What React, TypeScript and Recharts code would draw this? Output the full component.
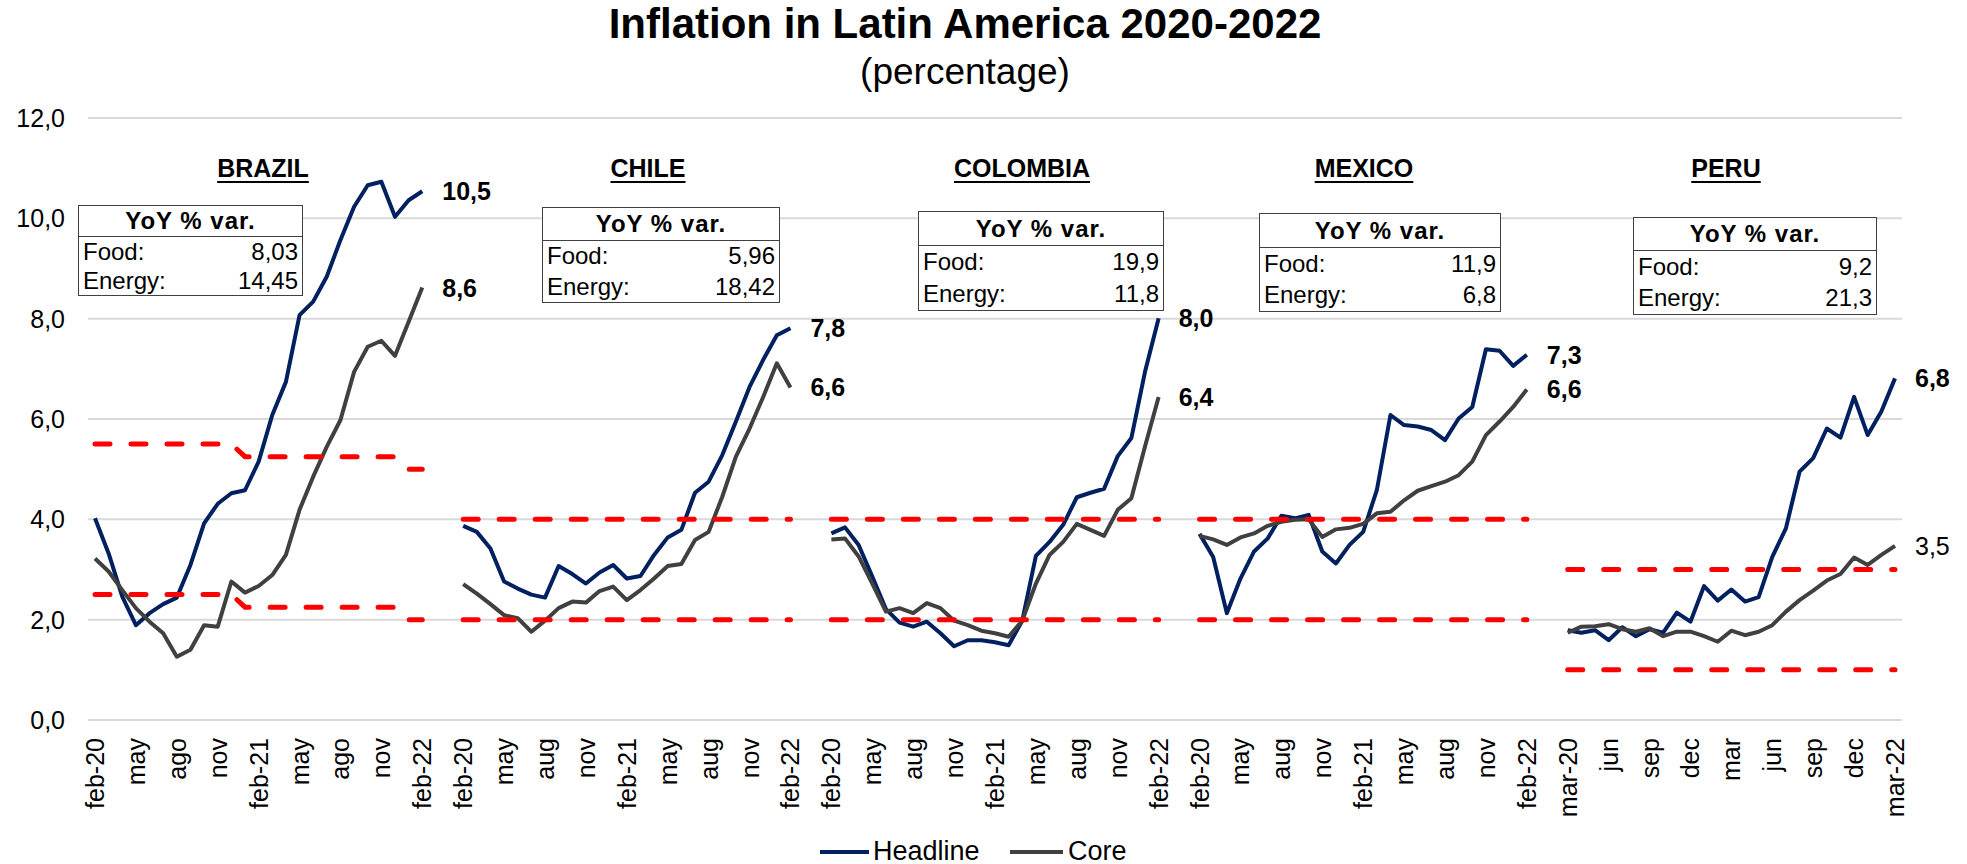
import { CartesianGrid, LabelList, Line, LineChart, XAxis, YAxis } from "recharts"

const FONT = '"Liberation Sans", Arial, sans-serif'

// monthly YoY %, 25 months per country
const BRAZIL_HEADLINE = [4.02, 3.32, 2.46, 1.89, 2.13, 2.31, 2.44, 3.09, 3.92, 4.31, 4.52, 4.58, 5.15, 6.08, 6.74, 8.07, 8.34, 8.84, 9.57, 10.23, 10.66, 10.73, 10.03, 10.36, 10.54]
const BRAZIL_CORE = [3.22, 2.96, 2.59, 2.23, 1.96, 1.73, 1.26, 1.4, 1.89, 1.86, 2.76, 2.54, 2.67, 2.89, 3.29, 4.19, 4.85, 5.45, 5.98, 6.94, 7.44, 7.56, 7.26, 7.94, 8.62]
const CHILE_HEADLINE = [3.87, 3.75, 3.42, 2.76, 2.62, 2.5, 2.44, 3.07, 2.91, 2.72, 2.94, 3.09, 2.82, 2.87, 3.29, 3.64, 3.79, 4.53, 4.75, 5.28, 5.95, 6.64, 7.18, 7.67, 7.81]
const CHILE_CORE = [2.71, 2.52, 2.31, 2.09, 2.03, 1.76, 1.98, 2.23, 2.36, 2.34, 2.57, 2.66, 2.39, 2.59, 2.82, 3.07, 3.11, 3.59, 3.75, 4.45, 5.25, 5.81, 6.44, 7.11, 6.63]
const COLOMBIA_HEADLINE = [3.72, 3.84, 3.49, 2.86, 2.21, 1.94, 1.86, 1.96, 1.73, 1.47, 1.59, 1.59, 1.55, 1.49, 1.98, 3.27, 3.55, 3.89, 4.44, 4.53, 4.61, 5.26, 5.62, 6.94, 8.01]
const COLOMBIA_CORE = [3.6, 3.62, 3.26, 2.72, 2.16, 2.23, 2.13, 2.33, 2.23, 1.98, 1.89, 1.78, 1.73, 1.66, 1.98, 2.72, 3.29, 3.55, 3.91, 3.79, 3.67, 4.19, 4.42, 5.45, 6.44]
const MEXICO_HEADLINE = [3.71, 3.25, 2.13, 2.82, 3.36, 3.62, 4.07, 4.02, 4.09, 3.36, 3.12, 3.49, 3.75, 4.58, 6.08, 5.88, 5.85, 5.78, 5.58, 6.01, 6.24, 7.39, 7.36, 7.06, 7.28]
const MEXICO_CORE = [3.67, 3.6, 3.49, 3.64, 3.72, 3.87, 3.95, 3.99, 4.0, 3.65, 3.8, 3.83, 3.91, 4.12, 4.15, 4.38, 4.57, 4.66, 4.75, 4.88, 5.15, 5.68, 5.95, 6.24, 6.59]
const PERU_HEADLINE = [1.79, 1.74, 1.79, 1.59, 1.85, 1.67, 1.81, 1.74, 2.14, 1.96, 2.67, 2.38, 2.6, 2.36, 2.45, 3.25, 3.82, 4.95, 5.22, 5.81, 5.63, 6.44, 5.68, 6.15, 6.81]
const PERU_CORE = [1.74, 1.86, 1.87, 1.91, 1.81, 1.76, 1.83, 1.67, 1.76, 1.76, 1.67, 1.56, 1.78, 1.69, 1.76, 1.89, 2.16, 2.39, 2.58, 2.78, 2.91, 3.24, 3.09, 3.29, 3.47]

// tick labels, every third month
const TICKS_BRAZIL = ["feb-20", "may", "ago", "nov", "feb-21", "may", "ago", "nov", "feb-22"]
const TICKS_FEB = ["feb-20", "may", "aug", "nov", "feb-21", "may", "aug", "nov", "feb-22"]
const TICKS_PERU = ["mar-20", "jun", "sep", "dec", "mar", "jun", "sep", "dec", "mar-22"]

// inflation target band by year
const BRAZIL_UPPER: Record<number, number> = { 2020: 5.5, 2021: 5.25, 2022: 5.0 }
const BRAZIL_LOWER: Record<number, number> = { 2020: 2.5, 2021: 2.25, 2022: 2.0 }
const BAND3_UPPER: Record<number, number> = { 2020: 4, 2021: 4, 2022: 4 }
const BAND3_LOWER: Record<number, number> = { 2020: 2, 2021: 2, 2022: 2 }
const PERU_UPPER: Record<number, number> = { 2020: 3, 2021: 3, 2022: 3 }
const PERU_LOWER: Record<number, number> = { 2020: 1, 2021: 1, 2022: 1 }

// YoY % var. boxes: food, energy
const BRAZIL_YOY = ["8,03", "14,45"]
const CHILE_YOY = ["5,96", "18,42"]
const COLOMBIA_YOY = ["19,9", "11,8"]
const MEXICO_YOY = ["11,9", "6,8"]
const PERU_YOY = ["9,2", "21,3"]

const PANELS = [
  { name: "BRAZIL", headline: BRAZIL_HEADLINE, core: BRAZIL_CORE, ticks: TICKS_BRAZIL, startMonth: 2, upper: BRAZIL_UPPER, lower: BRAZIL_LOWER, yoy: BRAZIL_YOY },
  { name: "CHILE", headline: CHILE_HEADLINE, core: CHILE_CORE, ticks: TICKS_FEB, startMonth: 2, upper: BAND3_UPPER, lower: BAND3_LOWER, yoy: CHILE_YOY },
  { name: "COLOMBIA", headline: COLOMBIA_HEADLINE, core: COLOMBIA_CORE, ticks: TICKS_FEB, startMonth: 2, upper: BAND3_UPPER, lower: BAND3_LOWER, yoy: COLOMBIA_YOY },
  { name: "MEXICO", headline: MEXICO_HEADLINE, core: MEXICO_CORE, ticks: TICKS_FEB, startMonth: 2, upper: BAND3_UPPER, lower: BAND3_LOWER, yoy: MEXICO_YOY },
  { name: "PERU", headline: PERU_HEADLINE, core: PERU_CORE, ticks: TICKS_PERU, startMonth: 3, upper: PERU_UPPER, lower: PERU_LOWER, yoy: PERU_YOY },
]

// overlay placement (pixels)
const LAYOUT: Record<string, { cx: number; box: [number, number, number, number] }> = {
  BRAZIL: { cx: 263, box: [78, 205, 225, 91] },
  CHILE: { cx: 648, box: [542, 207, 238, 96] },
  COLOMBIA: { cx: 1022, box: [918, 211, 246, 100] },
  MEXICO: { cx: 1364, box: [1259, 213, 242, 99] },
  PERU: { cx: 1726, box: [1633, 217, 244, 98] },
}

type Row = {
  key: string
  country: string
  headline: number | null
  core: number | null
  upper: number | null
  lower: number | null
  headlineEnd?: number
  coreEnd?: number
}

const rows: Row[] = []
const tickByKey = new Map<string, string>()
PANELS.forEach((p, pi) => {
  p.headline.forEach((h, i) => {
    const year = 2020 + Math.floor((p.startMonth - 1 + i) / 12)
    const key = `${p.name}-${i}`
    const last = i === p.headline.length - 1
    if (i % 3 === 0) tickByKey.set(key, p.ticks[i / 3])
    rows.push({
      key,
      country: p.name,
      headline: h,
      core: p.core[i],
      upper: p.upper[year],
      lower: p.lower[year],
      headlineEnd: last ? h : undefined,
      coreEnd: last ? p.core[i] : undefined,
    })
  })
  if (pi < PANELS.length - 1) {
    for (let g = 0; g < 2; g++) {
      rows.push({ key: `gap-${pi}-${g}`, country: "", headline: null, core: null, upper: null, lower: null })
    }
  }
})

const fmt = (v: number) => v.toFixed(1).replace(".", ",")

function XTick(props: any) {
  const { x, y, payload } = props
  const label = tickByKey.get(payload.value)
  if (!label) return null
  return (
    <text
      x={x}
      y={y}
      transform={`rotate(-90 ${x} ${y})`}
      textAnchor="end"
      dominantBaseline="central"
      fontSize={25}
      fontFamily={FONT}
      fill="#000"
    >
      {label}
    </text>
  )
}

const endLabel = (series: "headline" | "core") => (props: any) => {
  const { value, index } = props
  if (value === undefined || value === null) return null
  const x = props.x ?? props.viewBox?.x
  const y = props.y ?? props.viewBox?.y
  const row = rows[index]
  const bold = !(series === "core" && row?.country === "PERU")
  return (
    <text
      x={x + 20}
      y={y}
      dominantBaseline="central"
      fontSize={25}
      fontWeight={bold ? 700 : 400}
      fontFamily={FONT}
      fill="#000"
    >
      {fmt(value)}
    </text>
  )
}

function YoyBox({ box, yoy }: { box: [number, number, number, number]; yoy: string[] }) {
  const [left, top, width, height] = box
  const head = Math.round(height * 0.33)
  const rowH = (height - head - 3) / 2
  const rowStyle = {
    display: "flex",
    justifyContent: "space-between",
    alignItems: "center",
    padding: "0 4px",
    height: rowH,
    fontSize: 24,
  }
  return (
    <div
      style={{
        position: "absolute",
        left,
        top,
        width,
        height,
        boxSizing: "border-box",
        border: "1.5px solid #404040",
        background: "#fff",
        fontFamily: FONT,
        color: "#000",
        lineHeight: 1,
      }}
    >
      <div
        style={{
          height: head,
          borderBottom: "1.5px solid #404040",
          display: "flex",
          alignItems: "center",
          justifyContent: "center",
          fontWeight: 700,
          fontSize: 24,
          letterSpacing: 1,
        }}
      >
        YoY % var.
      </div>
      <div style={rowStyle}>
        <span>Food:</span>
        <span>{yoy[0]}</span>
      </div>
      <div style={rowStyle}>
        <span>Energy:</span>
        <span>{yoy[1]}</span>
      </div>
    </div>
  )
}

export default function App() {
  return (
    <div style={{ position: "relative", width: 1967, height: 864, background: "#fff", fontFamily: FONT }}>
      <style>{"body{margin:0}"}</style>
      <LineChart width={1967} height={864} data={rows} margin={{ top: 118, right: 65, left: 0, bottom: 0 }}>
        <CartesianGrid vertical={false} stroke="#D9D9D9" strokeWidth={2} />
        <XAxis
          dataKey="key"
          interval={0}
          height={144}
          axisLine={false}
          tickLine={false}
          tickSize={0}
          tickMargin={18}
          padding={{ left: 7, right: 7 }}
          tick={<XTick />}
        />
        <YAxis
          width={88}
          domain={[0, 12]}
          ticks={[0, 2, 4, 6, 8, 10, 12]}
          tickFormatter={fmt}
          axisLine={false}
          tickLine={false}
          tickSize={0}
          tickMargin={23}
          tick={{ fontSize: 25, fill: "#000", fontFamily: FONT }}
        />
        <Line
          dataKey="headline"
          stroke="#002060"
          strokeWidth={4}
          strokeLinejoin="round"
          dot={false}
          isAnimationActive={false}
        >
          <LabelList dataKey="headlineEnd" content={endLabel("headline")} />
        </Line>
        <Line
          dataKey="core"
          stroke="#404040"
          strokeWidth={4}
          strokeLinejoin="round"
          dot={false}
          isAnimationActive={false}
        >
          <LabelList dataKey="coreEnd" content={endLabel("core")} />
        </Line>
        <Line
          dataKey="upper"
          stroke="#FF0000"
          strokeWidth={5}
          strokeDasharray="15 21"
          strokeLinecap="round"
          dot={false}
          isAnimationActive={false}
        />
        <Line
          dataKey="lower"
          stroke="#FF0000"
          strokeWidth={5}
          strokeDasharray="15 21"
          strokeLinecap="round"
          dot={false}
          isAnimationActive={false}
        />
      </LineChart>

      <div
        style={{
          position: "absolute",
          left: 365,
          width: 1200,
          top: 3,
          textAlign: "center",
          fontSize: 42,
          fontWeight: 700,
          lineHeight: 1,
          color: "#000",
        }}
      >
        Inflation in Latin America 2020-2022
      </div>
      <div
        style={{
          position: "absolute",
          left: 365,
          width: 1200,
          top: 53,
          textAlign: "center",
          fontSize: 37,
          lineHeight: 1,
          color: "#000",
        }}
      >
        (percentage)
      </div>

      {PANELS.map((p) => (
        <div key={p.name}>
          <div
            style={{
              position: "absolute",
              left: LAYOUT[p.name].cx - 150,
              width: 300,
              top: 156,
              textAlign: "center",
              fontSize: 25,
              fontWeight: 700,
              lineHeight: 1,
              textDecoration: "underline",
              textDecorationThickness: 2,
              textUnderlineOffset: 4,
              color: "#000",
            }}
          >
            {p.name}
          </div>
          <YoyBox box={LAYOUT[p.name].box} yoy={p.yoy} />
        </div>
      ))}

      <div style={{ position: "absolute", left: 820, top: 850, width: 49, height: 4, background: "#002060" }} />
      <div style={{ position: "absolute", left: 873, top: 838, fontSize: 27, lineHeight: 1, color: "#000" }}>Headline</div>
      <div style={{ position: "absolute", left: 1010, top: 850, width: 53, height: 4, background: "#404040" }} />
      <div style={{ position: "absolute", left: 1068, top: 838, fontSize: 27, lineHeight: 1, color: "#000" }}>Core</div>
    </div>
  )
}
